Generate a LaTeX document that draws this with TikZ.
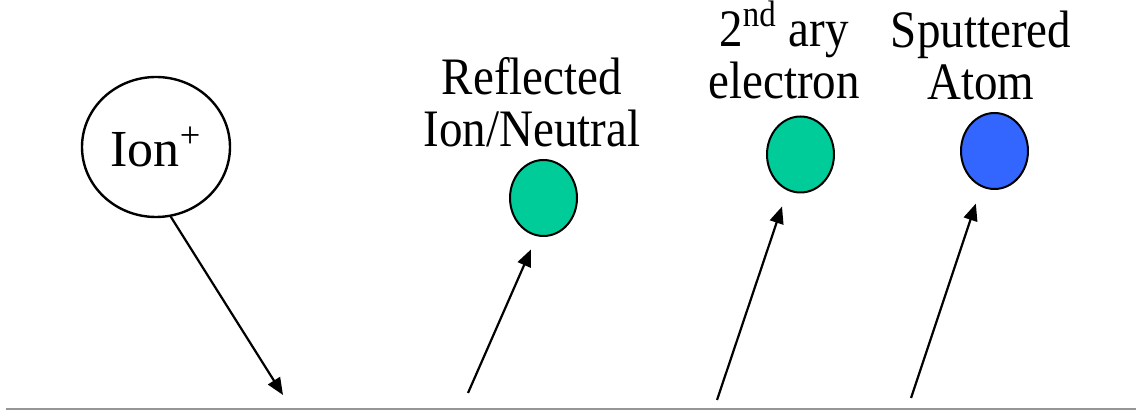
\documentclass[tikz,border=0pt]{standalone}
\usepackage{fontspec}
\setmainfont{Liberation Serif}
\usetikzlibrary{arrows.meta,shapes.geometric}
\definecolor{electronGreen}{RGB}{0,204,153}
\definecolor{atomBlue}{RGB}{51,102,255}
\definecolor{surfaceGray}{RGB}{150,150,150}
\tikzset{
  particle/.style={
    ellipse, draw=black, line width=1pt, inner sep=0pt,
    minimum width=33.5pt, minimum height=38pt
  },
  impactArrow/.style={-{Triangle[length=8.5pt,width=7pt]}, line width=1.1pt, color=black},
  caption/.style={align=center, anchor=base, inner sep=0pt, yscale=1.12, transform shape,
                  font=\fontsize{23.5}{23.5}\selectfont}
}

\begin{document}
\begin{tikzpicture}[x=0.5pt, y=-0.5pt,
          ionball/.style={ellipse, draw=black, line width=1.2pt, inner sep=0pt,
                          minimum width=74pt, minimum height=70pt, font=\fontsize{26}{30}\selectfont},
          surface/.style={draw=surfaceGray, line width=1pt}]
        \useasboundingbox (0,0) rectangle (1136,410);
        \node[ionball]                          (ion)  at (156,147)   {Ion\textsuperscript{+}};
        \node[particle, fill=electronGreen]     (refl) at (543.5,198) {};
        \node[particle, fill=electronGreen]     (elec) at (800.5,154.5) {};
        \node[particle, fill=atomBlue]          (sput) at (994.5,151) {};
        \node[caption] (reflLbl) at (532,147) {Reflected\\Ion/Neutral};
        \node[caption] (elecLbl) at (784,99)  {2\textsuperscript{nd} ary\\electron};
        \node[caption] (sputLbl) at (981,100) {Sputtered\\Atom};
        \coordinate (hit)   at (283,395);
        \coordinate (out1)  at (468,393);
        \coordinate (out2)  at (717,400);
        \coordinate (out3)  at (911,398);
        \draw[surface] (6,409) -- (1136,409);
        \draw[impactArrow]                 (ion.-78) -- (hit);
        \draw[impactArrow, shorten >=7.2pt] (out1) -- (refl.260);
        \draw[impactArrow, shorten >=8.4pt] (out2) -- (elec.250);
        \draw[impactArrow, shorten >=8.7pt] (out3) -- (sput.250);
      \end{tikzpicture}
\end{document}
